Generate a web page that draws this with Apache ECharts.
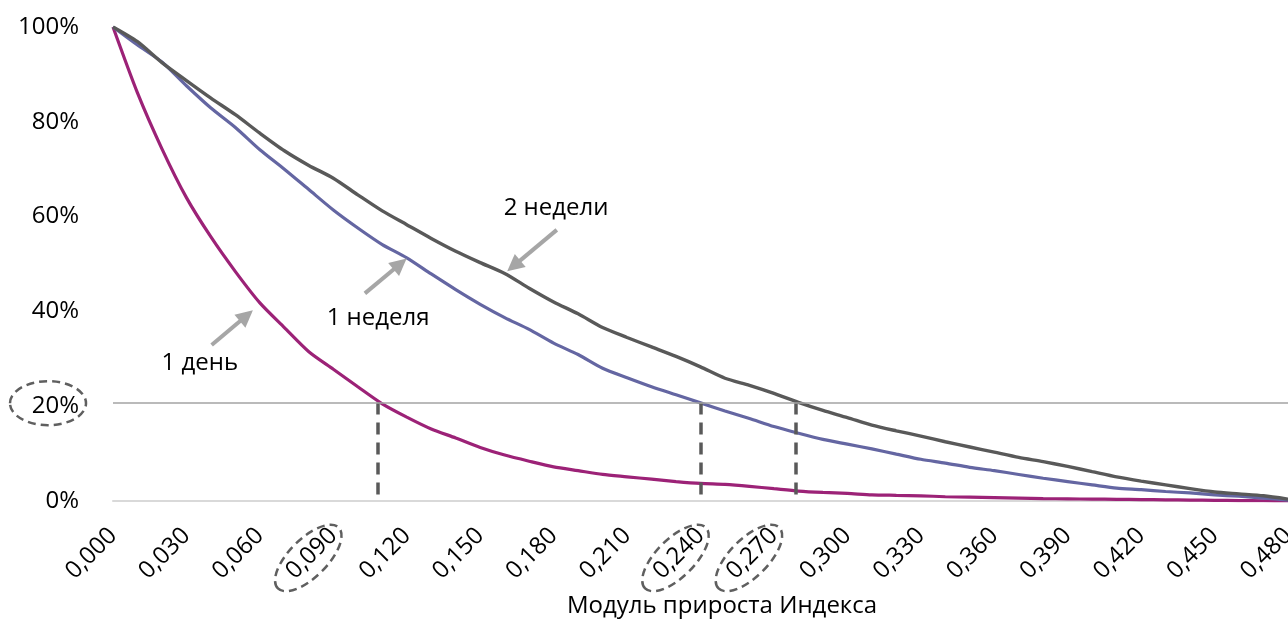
<!DOCTYPE html>
<html>
<head>
<meta charset="utf-8">
<script src="https://cdn.jsdelivr.net/npm/echarts@6/dist/echarts.min.js"></script>
<style>
html,body{margin:0;padding:0;background:#fff;}
#c{width:1288px;height:621px;}
</style>
</head>
<body>
<div id="c"></div>
<script>
// ---- data ----
const xValues = [0.00,0.01,0.02,0.03,0.04,0.05,0.06,0.07,0.08,0.09,
  0.10,0.11,0.12,0.13,0.14,0.15,0.16,0.17,0.18,0.19,
  0.20,0.21,0.22,0.23,0.24,0.25,0.26,0.27,0.28,0.29,
  0.30,0.31,0.32,0.33,0.34,0.35,0.36,0.37,0.38,0.39,
  0.40,0.41,0.42,0.43,0.44,0.45,0.46,0.47,0.48];

const oneDay = [100,86.1,74.3,64.0,55.7,48.4,41.8,36.6,31.5,27.8,
  24.1,20.5,17.7,15.2,13.3,11.3,9.7,8.4,7.2,6.4,
  5.6,5.1,4.6,4.1,3.7,3.5,3.1,2.6,2.1,1.8,
  1.6,1.3,1.2,1.1,0.9,0.8,0.7,0.6,0.5,0.45,
  0.4,0.35,0.3,0.25,0.2,0.15,0.1,0.05,0.0];

const oneWeek = [100,96.2,92.6,87.6,82.9,78.8,74.1,70.0,65.7,61.4,
  57.6,54.1,51.3,47.9,44.6,41.5,38.7,36.2,33.3,30.9,
  28.0,26.0,24.1,22.4,20.7,19.0,17.4,15.7,14.3,13.0,
  12.0,11.0,9.9,8.8,8.0,7.1,6.4,5.6,4.8,4.1,
  3.4,2.7,2.4,2.0,1.7,1.3,1.0,0.6,0.2];

const twoWeeks = [100,96.9,92.5,88.7,85.0,81.5,77.6,73.9,70.8,68.1,
  64.6,61.2,58.3,55.4,52.7,50.3,48.0,44.9,42.0,39.5,
  36.6,34.5,32.5,30.5,28.3,25.9,24.4,22.7,20.8,19.1,
  17.6,16.0,14.8,13.7,12.5,11.4,10.3,9.2,8.3,7.3,
  6.2,5.1,4.2,3.4,2.6,1.9,1.5,1.1,0.4];

const seriesNames = ['1 день', '1 неделя', '2 недели'];
const xAxisTitle = 'Модуль прироста Индекса';

// guide level as drawn on the picture (the "20%" line) and where each curve meets it
const guideLevel = 20.8;
const guideCrossings = [0.1083, 0.2401, 0.2788];
const dashBottom = 0.8;

// annotation arrows [tail, head] in data units, and label anchors
const arrows = [
  [[0.0403, 32.9], [0.0545, 39.1]],
  [[0.1029, 43.8], [0.1173, 50.0]],
  [[0.1813, 57.2], [0.1637, 49.6]]
];
const labelAnchors = [[0.0355, 29.1], [0.1083, 38.6], [0.181, 61.8]];

// circled tick labels
const circledXTicks = [0.09, 0.24, 0.27];
const circledYTick = 20;

// ---- chart ----
const FONT = '"Open Sans", "Noto Sans", sans-serif';
function pairs(arr) { return xValues.map((x, i) => [x, arr[i]]); }

const chart = echarts.init(document.getElementById('c'));
const option = {
  animation: false,
  backgroundColor: '#ffffff',
  textStyle: { fontFamily: FONT },
  grid: { left: 113, right: 0, top: 27, bottom: 120, containLabel: false, outerBoundsMode: 'none' },
  xAxis: {
    type: 'value', min: 0, max: 0.48, interval: 0.03,
    axisLine: { show: true, lineStyle: { color: '#d9d9d9', width: 2 } },
    axisTick: { show: false },
    splitLine: { show: false },
    axisLabel: {
      rotate: 45, margin: 31, fontSize: 24, color: '#000', fontFamily: FONT,
      formatter: v => v.toFixed(3).replace('.', ',')
    },
    name: xAxisTitle, nameLocation: 'middle', nameGap: 93,
    nameTextStyle: { fontSize: 24, color: '#000', fontFamily: FONT, padding: [0, 0, 0, 43] }
  },
  yAxis: {
    type: 'value', min: 0, max: 100, interval: 20,
    axisLine: { show: false }, axisTick: { show: false }, splitLine: { show: false },
    axisLabel: { formatter: '{value}%', fontSize: 24, color: '#000', margin: 34, fontFamily: FONT }
  },
  series: [
    {
      name: seriesNames[0], type: 'line', data: pairs(oneDay), symbol: 'none', smooth: 0.25,
      lineStyle: { color: '#9c2277', width: 3.2 }, itemStyle: { color: '#9c2277' },
      markLine: {
        silent: true, animation: false,
        symbol: ['none', 'triangle'], symbolSize: 17,
        lineStyle: { color: '#a6a6a6', width: 4, type: 'solid' },
        itemStyle: { color: '#a6a6a6' },
        label: { show: false },
        data: arrows.map(a => [
          { coord: a[0], symbol: 'none' },
          { coord: a[1], symbol: 'triangle', symbolSize: 17 }
        ])
      }
    },
    {
      name: seriesNames[1], type: 'line', data: pairs(oneWeek), symbol: 'none', smooth: 0.25,
      lineStyle: { color: '#6466a2', width: 3.2 }, itemStyle: { color: '#6466a2' },
      markLine: {
        silent: true, animation: false, symbol: 'none',
        lineStyle: { color: '#595959', width: 3.5, type: [12, 8] },
        label: { show: false },
        data: guideCrossings.map(x => [{ coord: [x, guideLevel] }, { coord: [x, dashBottom] }])
      }
    },
    {
      name: seriesNames[2], type: 'line', data: pairs(twoWeeks), symbol: 'none', smooth: 0.25,
      lineStyle: { color: '#595959', width: 3.4 }, itemStyle: { color: '#595959' },
      markLine: {
        silent: true, animation: false, symbol: 'none',
        lineStyle: { color: '#a3a3a3', width: 1.7, type: 'solid' },
        label: { show: false },
        data: [{ yAxis: guideLevel }]
      }
    }
  ]
};
chart.setOption(option);

// ---- annotations placed through the axes ----
function px(x, y) { return chart.convertToPixel({ gridIndex: 0 }, [x, y]); }
const graphics = [];
labelAnchors.forEach((p, i) => {
  const q = px(p[0], p[1]);
  graphics.push({
    type: 'text', x: q[0], y: q[1], z: 100,
    style: { text: seriesNames[i], fill: '#000', font: '24px ' + FONT, align: 'center', verticalAlign: 'middle' }
  });
});
const dashStyle = { fill: 'none', stroke: '#5f5f5f', lineWidth: 2.5, lineDash: [8, 5] };
const yTick = px(0, circledYTick);
graphics.push({
  type: 'ellipse', x: yTick[0] - 65, y: yTick[1] - 3, z: 100,
  shape: { cx: 0, cy: 0, rx: 38, ry: 22 }, style: dashStyle
});
circledXTicks.forEach(t => {
  const q = px(t, 0);
  graphics.push({
    type: 'ellipse', x: q[0] - 25, y: q[1] + 57, rotation: Math.PI / 4, z: 100,
    shape: { cx: 0, cy: 0, rx: 43, ry: 19 }, style: dashStyle
  });
});
chart.setOption({ graphic: { elements: graphics } });
</script>
</body>
</html>
